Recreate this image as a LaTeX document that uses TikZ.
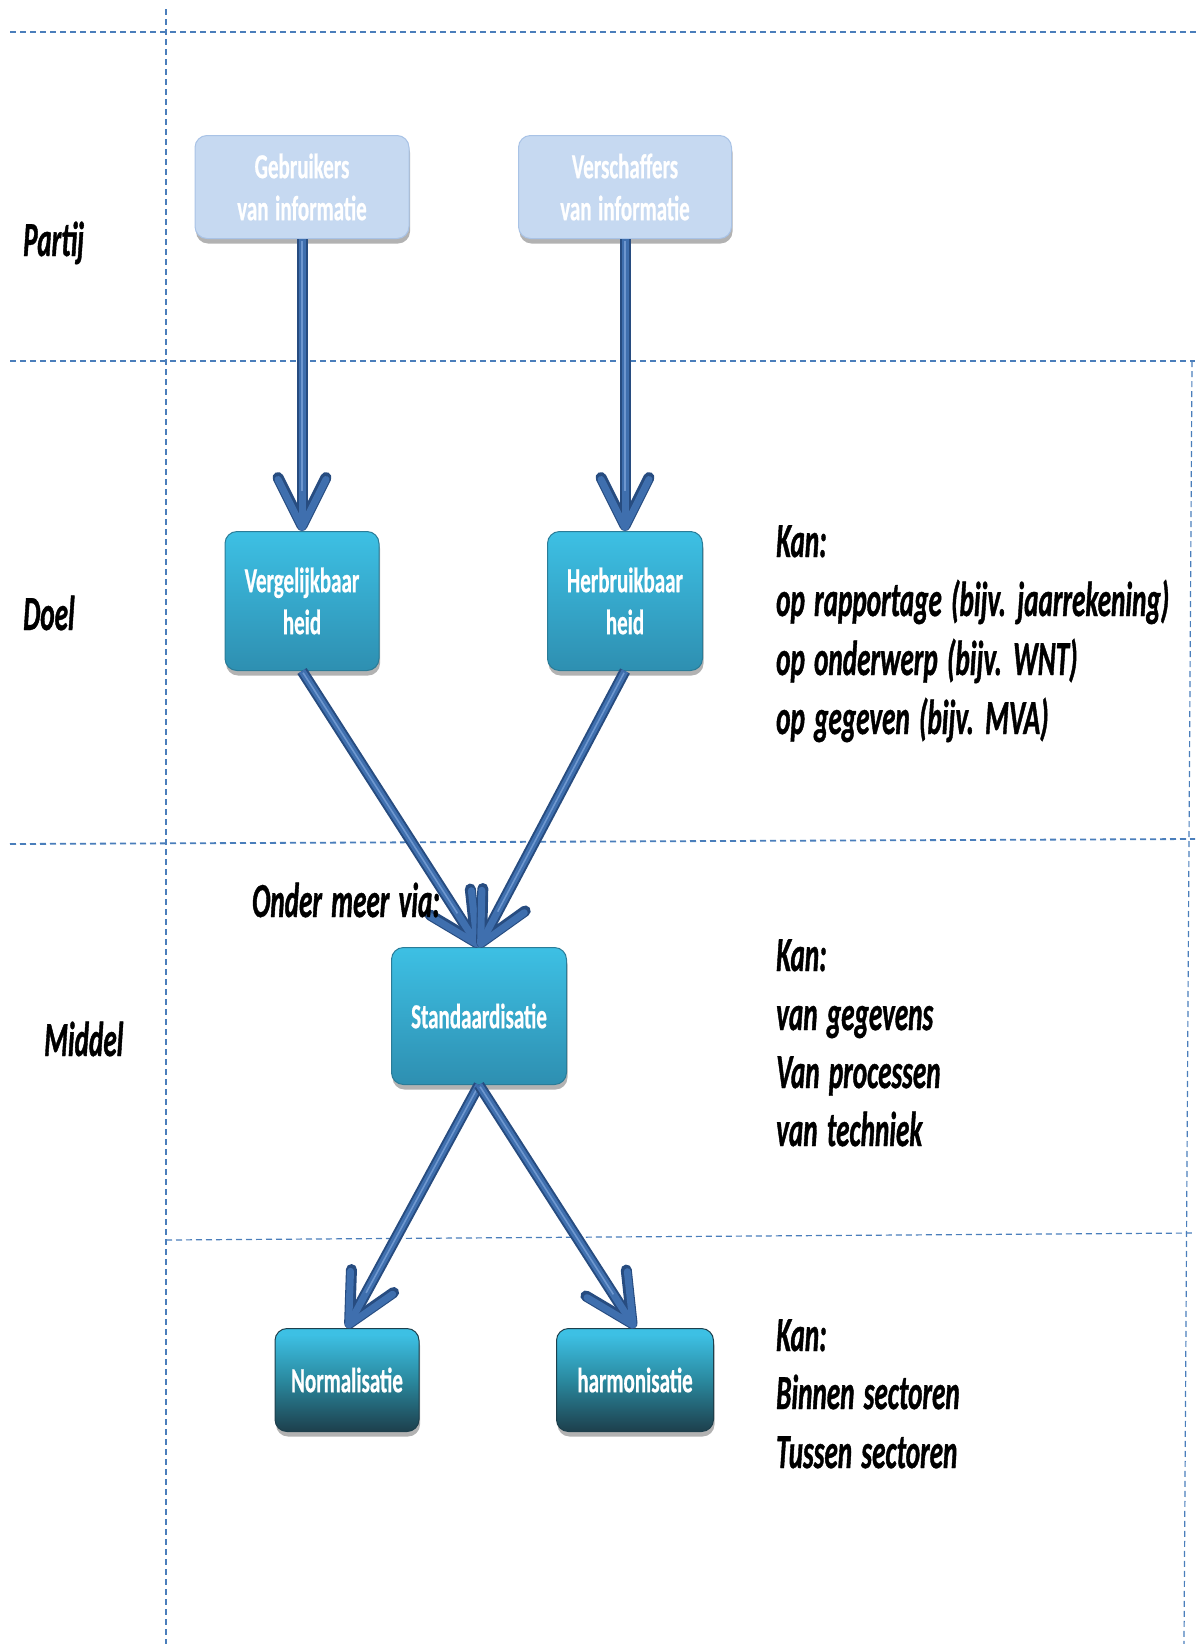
\documentclass[tikz,border=0pt]{standalone}
\usepackage{fontspec}
\setmainfont{Carlito}
\newfontfamily\nfont{Carlito}[FakeStretch=0.6, FakeBold=0.6, WordSpace=1.4]
\newfontfamily\lfont{Carlito}[FakeStretch=0.555, FakeBold=0.8, WordSpace=1.5]
\usetikzlibrary{arrows.meta,shadows}
\definecolor{dashblue}{HTML}{4A7EBB}
\definecolor{arrowmid}{HTML}{3F6FAE}
\definecolor{arrowdark}{HTML}{274C80}
\definecolor{arrowlight}{HTML}{6E97CF}
\definecolor{partfill}{HTML}{C6D9F1}
\definecolor{partedge}{HTML}{A9C3E6}
\definecolor{boxtop}{HTML}{3DC0E4}
\definecolor{boxbot}{HTML}{2E8FB1}
\definecolor{boxedge}{HTML}{2A7C98}
\definecolor{boxmid}{HTML}{2A899F}
\definecolor{boxdark}{HTML}{1D3F4C}
\pgfdeclareverticalshading{midboxshade}{100bp}{color(0bp)=(boxbot); color(25bp)=(boxbot); color(75bp)=(boxtop); color(100bp)=(boxtop)}
\pgfdeclareverticalshading{lowboxshade}{100bp}{color(0bp)=(boxdark); color(25bp)=(boxdark); color(50bp)=(boxmid); color(72bp)=(boxtop); color(100bp)=(boxtop)}
\newcommand\boxfont{\nfont\bfseries\fontsize{35}{42}\selectfont}
\newcommand\lblfont{\lfont\bfseries\itshape\fontsize{49}{58}\selectfont}
\tikzset{
  sep/.style={dashblue, line width=1.8pt, dash pattern=on 6pt off 4pt},
  septhin/.style={dashblue, line width=1.2pt, dash pattern=on 6pt off 4pt},
  boxbase/.style={rounded corners=12pt, text=white, font=\boxfont, align=center, inner sep=0pt,
    drop shadow={shadow xshift=1pt, shadow yshift=-5pt, opacity=0.3, fill=black}},
  partybox/.style={boxbase, fill=partfill, draw=partedge, line width=1pt},
  goalbox/.style={boxbase, shade, shading=midboxshade, draw=boxedge, line width=1pt},
  lowbox/.style={boxbase, shade, shading=lowboxshade, draw=boxdark, line width=1pt},
  lbl/.style={font=\lblfont, anchor=base west, inner sep=0pt, text=black},
  tipspec/.style={-{Straight Barb[length=48pt,width=48pt,round]}},
  flow/.style={draw=arrowmid, line width=7pt, tipspec,
    preaction={draw=arrowdark, line width=11pt, tipspec},
    postaction={draw=arrowlight, line width=1.6pt, -, shorten >=40pt, shorten <=2pt}}
}
\begin{document}
\begin{tikzpicture}[x=1pt,y=-1pt]
\useasboundingbox (0,0) rectangle (1198,1644);
% separator lines
\draw[sep] (10,32) -- (1198,32);
\draw[sep] (166,9) -- (166,1644);
\draw[sep] (10,361) -- (1195,361);
\draw[sep] (10,844) -- (1195,839);
\draw[septhin] (166,1240) -- (1195,1233);
\draw[septhin] (1192,361) -- (1184,1644);
% boxes
\node[partybox, minimum width=214pt, minimum height=103pt] (geb) at (302,187) {Gebruikers\\van informatie};
\node[partybox, minimum width=213pt, minimum height=103pt] (ver) at (625,187) {Verschaffers\\van informatie};
\node[goalbox, minimum width=154pt, minimum height=139pt] (vgl) at (302,601) {Vergelijkbaar\\heid};
\node[goalbox, minimum width=155pt, minimum height=139pt] (hrb) at (625,601) {Herbruikbaar\\heid};
\node[goalbox, minimum width=175pt, minimum height=137pt] (std) at (479,1016) {Standaardisatie};
\node[lowbox, minimum width=144pt, minimum height=103pt] (nrm) at (347,1380) {Normalisatie};
\node[lowbox, minimum width=157pt, minimum height=103pt] (hrm) at (635,1380) {harmonisatie};
% connectors
\draw[flow] (geb.south) -- (vgl.north);
\draw[flow] (ver.south) -- (hrb.north);
\draw[flow] (vgl.south) -- (std.north);
\draw[flow] (hrb.south) -- (std.north);
\draw[flow] (std.south) -- (nrm.north);
\draw[flow] (std.south) -- (hrm.north);
% left labels
\node[lbl] (partij) at (23,256) {Partij};
\node[lbl] (doel) at (23,630) {Doel};
\node[lbl] (middel) at (44,1056) {Middel};
\node[lbl] (via) at (252,917) {Onder meer via:};
% right texts
\node[lbl] (k1) at (776,557) {Kan:};
\node[lbl] (k1a) at (776,616) {op rapportage (bijv. jaarrekening)};
\node[lbl] (k1b) at (776,675) {op onderwerp (bijv. WNT)};
\node[lbl] (k1c) at (776,734) {op gegeven (bijv. MVA)};
\node[lbl] (k2) at (776,971) {Kan:};
\node[lbl] (k2a) at (776,1030) {van gegevens};
\node[lbl] (k2b) at (776,1088) {Van processen};
\node[lbl] (k2c) at (776,1146) {van techniek};
\node[lbl] (k3) at (776,1351) {Kan:};
\node[lbl] (k3a) at (776,1409) {Binnen sectoren};
\node[lbl] (k3b) at (776,1468) {Tussen sectoren};
\end{tikzpicture}
\end{document}
